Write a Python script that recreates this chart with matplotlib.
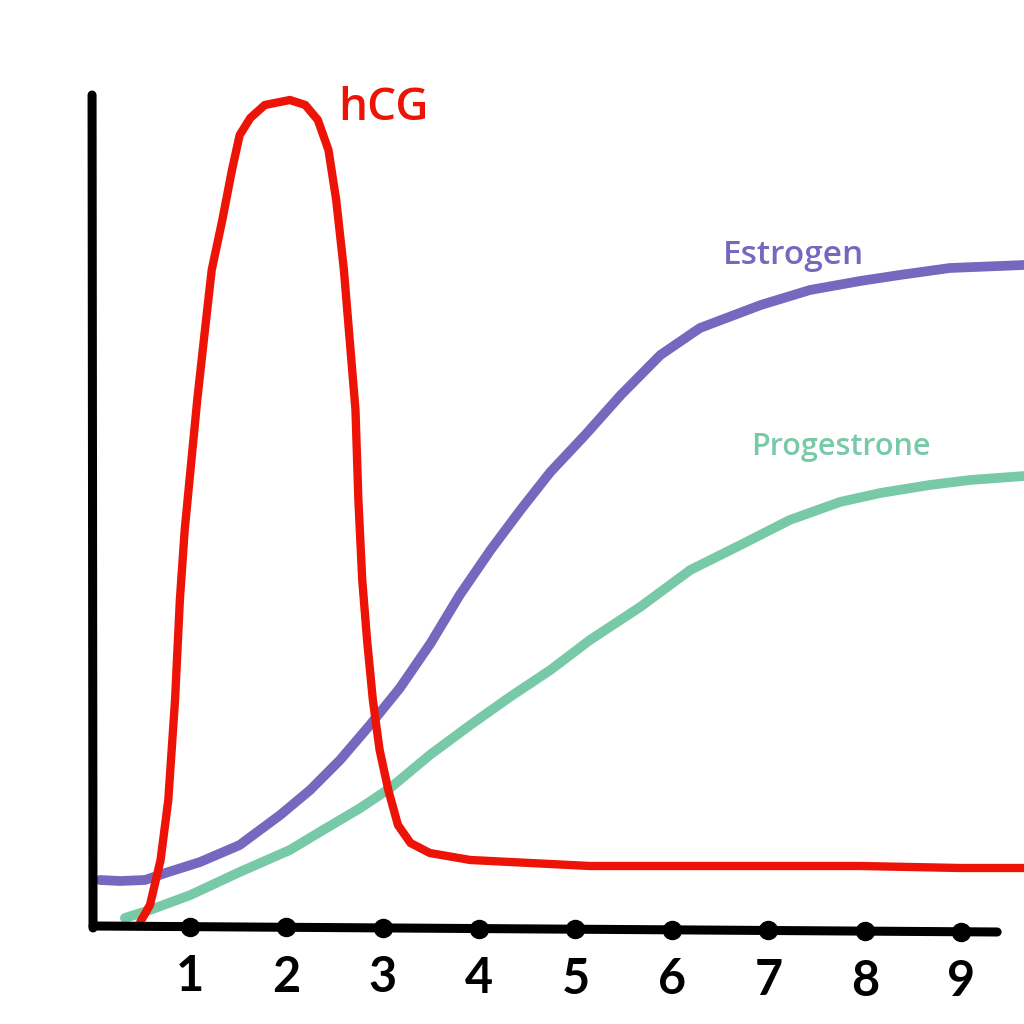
import matplotlib.pyplot as plt

plt.rcParams["font.family"] = ["Lato", "DejaVu Sans"]

# months on x, hormone level (arbitrary units) on y
hcg_x = [0.49, 0.59, 0.70, 0.78, 0.85, 0.90, 0.95, 1.01, 1.08, 1.16, 1.23, 1.34, 1.44, 1.52,
         1.63, 1.78, 2.04, 2.20, 2.33, 2.44, 2.52, 2.60, 2.66, 2.72, 2.75, 2.79, 2.84, 2.90,
         2.97, 3.06, 3.16, 3.29, 3.49, 3.91, 4.53, 5.15, 6.29, 7.95, 8.99, 9.65]
hcg_y = [6, 23, 68, 128, 228, 328, 398, 458, 528, 598, 658, 708, 758, 793,
         810, 823, 828, 823, 808, 778, 728, 658, 588, 518, 428, 348, 288, 228,
         178, 138, 103, 85, 75, 68, 65, 62, 62, 62, 60, 60]

estrogen_x = [0.07, 0.28, 0.54, 0.75, 1.11, 1.52, 1.94, 2.25, 2.56, 2.87, 3.18, 3.50, 3.80,
              4.12, 4.43, 4.74, 5.10, 5.47, 5.88, 6.29, 6.92, 7.43, 7.95, 8.36, 8.88, 9.65]
estrogen_y = [48, 47, 48, 55, 66, 83, 113, 138, 168, 203, 240, 285, 333,
              378, 418, 456, 493, 533, 573, 600, 623, 638, 647, 653, 660, 663]

progesterone_x = [0.33, 0.59, 1.01, 1.52, 2.04, 2.35, 2.77, 3.08, 3.49, 3.91, 4.32, 4.74,
                  5.15, 5.67, 6.19, 6.71, 7.22, 7.74, 8.16, 8.67, 9.09, 9.65]
progesterone_y = [10, 18, 33, 56, 78, 96, 120, 140, 173, 203, 231, 258,
                  288, 321, 358, 383, 408, 426, 435, 443, 448, 452]

months = [1, 2, 3, 4, 5, 6, 7, 8, 9]
tick_labels = ["1", "2", "3", "4", "5", "6", "7", "8", "9"]

red = "#ED1407"
purple = "#7668BE"
green = "#78C9A8"

fig = plt.figure(figsize=(10.24, 10.24), dpi=100)
ax = fig.add_axes([0, 0, 1, 1])
ax.set_xlim(-0.964, 9.648)
ax.set_ylim(-96, 928)
ax.axis("off")

# hand drawn axes
ax.plot([-0.01, 0.0], [833, 0], color="black", lw=6.5, solid_capstyle="round", zorder=4)
ax.plot([0.0, 9.37], [2, -4], color="black", lw=6.5, solid_capstyle="round", zorder=4)
tick_y = [2 - 6 * m / 9.37 for m in months]
ax.plot(months, tick_y, "o", color="black", ms=13, zorder=5)
for m, lab, ty in zip(months, tick_labels, tick_y):
    ax.text(m, ty - 50, lab, ha="center", va="center", fontsize=35,
            fontweight="bold", color="black")

ax.plot(estrogen_x, estrogen_y, color=purple, lw=7, solid_capstyle="round", zorder=2)
ax.plot(progesterone_x, progesterone_y, color=green, lw=7, solid_capstyle="round", zorder=2)
ax.plot(hcg_x, hcg_y, color=red, lw=6, solid_capstyle="round", zorder=3)

lab_font = ["Open Sans", "DejaVu Sans"]
ax.text(2.54, 820, "hCG", color=red, fontsize=33, fontweight="semibold",
        family=lab_font, ha="left", va="center")
ax.text(6.53, 672, "Estrogen", color=purple, fontsize=24, fontweight="semibold",
        family=lab_font, ha="left", va="center")
ax.text(6.82, 481, "Progestrone", color=green, fontsize=22, fontweight="semibold",
        family=lab_font, ha="left", va="center")

fig.savefig("out.png", dpi=100)
